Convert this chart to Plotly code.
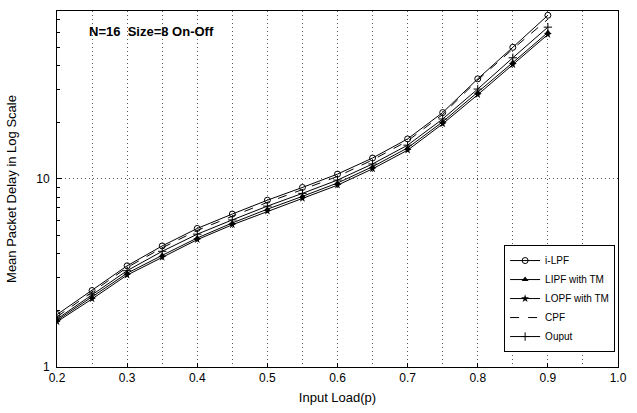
import plotly.graph_objects as go

load = [0.2, 0.25, 0.3, 0.35, 0.4, 0.45, 0.5, 0.55, 0.6, 0.65, 0.7, 0.75, 0.8, 0.85, 0.9]
ilpf = [1.90, 2.55, 3.45, 4.40, 5.45, 6.50, 7.70, 9.00, 10.6, 12.9, 16.3, 22.5, 34.0, 50.0, 74.0]
cpf = [1.85, 2.50, 3.38, 4.30, 5.32, 6.33, 7.50, 8.77, 10.3, 12.6, 15.9, 22.0, 33.5, 49.0, 70.5]
ouput = [1.80, 2.42, 3.25, 4.12, 5.08, 6.05, 7.16, 8.37, 9.85, 12.0, 15.1, 20.8, 30.0, 44.0, 64.0]
lipf_tm = [1.77, 2.35, 3.15, 3.92, 4.85, 5.83, 6.90, 8.07, 9.50, 11.6, 14.6, 20.1, 28.8, 41.5, 60.0]
lopf_tm = [1.74, 2.30, 3.08, 3.83, 4.75, 5.70, 6.73, 7.87, 9.25, 11.3, 14.2, 19.6, 28.0, 40.5, 58.5]

x_ticks = [0.2, 0.3, 0.4, 0.5, 0.6, 0.7, 0.8, 0.9, 1.0]
x_tick_text = ["0.2", "0.3", "0.4", "0.5", "0.6", "0.7", "0.8", "0.9", "1.0"]
y_ticks = [1, 10]
y_tick_text = ["1", "10"]
y_minor = [2, 3, 4, 5, 6, 7, 8, 9, 20, 30, 40, 50, 60, 70]

fig = go.Figure()
line = dict(color="black", width=1)
fig.add_trace(go.Scatter(x=load, y=ilpf, name="i-LPF", mode="lines+markers", line=line,
                         marker=dict(symbol="circle-open", size=6, color="black", line=dict(width=1))))
fig.add_trace(go.Scatter(x=load, y=lipf_tm, name="LIPF with TM", mode="lines+markers", line=line,
                         marker=dict(symbol="triangle-up", size=6, color="black")))
fig.add_trace(go.Scatter(x=load, y=lopf_tm, name="LOPF with TM", mode="lines+markers", line=line,
                         marker=dict(symbol="star", size=6, color="black")))
fig.add_trace(go.Scatter(x=load, y=cpf, name="CPF", mode="lines",
                         line=dict(color="black", width=1, dash="dash")))
fig.add_trace(go.Scatter(x=load, y=ouput, name="Ouput", mode="lines+markers", line=line,
                         marker=dict(symbol="cross-thin-open", size=6, color="black", line=dict(width=1, color="black"))))

fig.add_annotation(text="<b>N=16  Size=8 On-Off</b>", xref="paper", yref="paper",
                   x=0.054, y=0.942, xanchor="left", yanchor="middle", showarrow=False,
                   font=dict(size=13, color="black", family="Liberation Sans"))

grid_dash = "1px,3px"
fig.update_layout(
    width=637, height=413,
    margin=dict(l=57, r=10, t=11, b=42),
    paper_bgcolor="white", plot_bgcolor="white",
    font=dict(family="Liberation Sans", size=12, color="black"),
    showlegend=True,
    legend=dict(x=0.797, y=0.042, xanchor="left", yanchor="bottom",
                bordercolor="black", borderwidth=1, bgcolor="white",
                font=dict(size=10), tracegroupgap=0),
)
fig.update_xaxes(range=[0.2, 1.0], tickvals=x_ticks, ticktext=x_tick_text,
                 tickfont=dict(size=12),
                 showline=True, linecolor="black", linewidth=1, mirror=True,
                 ticks="inside", ticklen=4, tickcolor="black",
                 showgrid=True, gridcolor="#555", griddash=grid_dash, gridwidth=1,
                 minor=dict(dtick=0.05, tick0=0.2, showgrid=True, gridcolor="#555", griddash=grid_dash),
                 zeroline=False,
                 title=dict(text="Input Load(p)", font=dict(size=13), standoff=8))
fig.update_yaxes(type="log", range=[0, 1.892], tickvals=y_ticks, ticktext=y_tick_text,
                 tickfont=dict(size=12), ticklabelstandoff=4,
                 showline=True, linecolor="black", linewidth=1, mirror=True,
                 ticks="inside", ticklen=5, tickcolor="black",
                 showgrid=True, gridcolor="#555", griddash=grid_dash, gridwidth=1,
                 minor=dict(tickvals=y_minor, ticks="inside", ticklen=3, tickcolor="black", showgrid=False),
                 zeroline=False,
                 title=dict(text="Mean Packet Delay in Log Scale", font=dict(size=13), standoff=16))

fig.write_html("out.html", config={"displayModeBar": False},
               post_script="document.body.style.margin='0';document.body.style.overflow='hidden';")
